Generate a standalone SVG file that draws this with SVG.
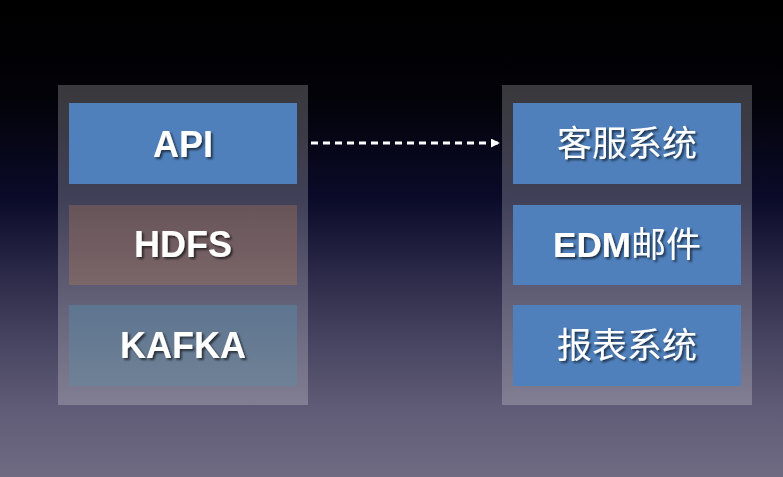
<svg xmlns="http://www.w3.org/2000/svg" width="783" height="477" viewBox="0 0 783 477">
<defs>
<linearGradient id="bg" x1="0" y1="0" x2="0" y2="1">
<stop offset="0" stop-color="#000000"/>
<stop offset="0.2" stop-color="#020208"/>
<stop offset="0.42" stop-color="#0b0b2a"/>
<stop offset="0.65" stop-color="#3b3856"/>
<stop offset="0.85" stop-color="#5f5b76"/>
<stop offset="1" stop-color="#6f6b83"/>
</linearGradient>
<linearGradient id="hdfs" x1="0" y1="0" x2="0" y2="1">
<stop offset="0" stop-color="#67545a"/>
<stop offset="1" stop-color="#7b6668"/>
</linearGradient>
<linearGradient id="kafka" x1="0" y1="0" x2="0" y2="1">
<stop offset="0" stop-color="#5e7590"/>
<stop offset="1" stop-color="#6f8196"/>
</linearGradient>
<filter id="sh" x="-20%" y="-20%" width="140%" height="140%">
<feDropShadow dx="2" dy="2" stdDeviation="1" flood-color="#000" flood-opacity="0.6"/>
</filter>
<marker id="ah" viewBox="0 0 10 10" refX="9" refY="5" markerWidth="3" markerHeight="3" orient="auto" markerUnits="strokeWidth">
<path d="M0,0 L10,5 L0,10 z" fill="#ffffff"/>
</marker>
</defs>
<style>
.cont{fill:#ffffff;fill-opacity:0.22}
.blue{fill:#4f80bb}
.lbl{fill:#ffffff;font-family:"Liberation Sans",Arial,sans-serif;font-weight:bold;font-size:36px;text-anchor:middle;filter:url(#sh)}
.cjk{fill:#ffffff;font-family:"Liberation Sans","Noto Sans CJK SC",sans-serif;font-size:35px;text-anchor:middle;filter:url(#sh)}
.edm{font-weight:bold}
</style>
<rect width="783" height="477" fill="url(#bg)"/>
<g id="left-container"><rect class="cont" x="58" y="85" width="250" height="320"/></g>
<g id="right-container"><rect class="cont" x="502" y="85" width="250" height="320"/></g>
<g id="api"><rect class="blue" x="69" y="103" width="228" height="81"/><text class="lbl" x="183" y="157">API</text></g>
<g id="hdfs"><rect fill="url(#hdfs)" x="69" y="205" width="228" height="80"/><text class="lbl" x="183" y="257">HDFS</text></g>
<g id="kafka"><rect fill="url(#kafka)" x="69" y="305" width="228" height="81"/><text class="lbl" x="183" y="358">KAFKA</text></g>
<g id="kefu"><rect class="blue" x="513" y="103" width="228" height="81"/><text class="cjk" x="627" y="156">客服系统</text></g>
<g id="edm"><rect class="blue" x="513" y="205" width="228" height="80"/><text class="cjk" x="627" y="257"><tspan class="edm">EDM</tspan>邮件</text></g>
<g id="baobiao"><rect class="blue" x="513" y="305" width="228" height="81"/><text class="cjk" x="627" y="358">报表系统</text></g>
<g id="connectors">
<line x1="311" y1="143" x2="499" y2="143" stroke="#ffffff" stroke-width="3" stroke-dasharray="7,5" marker-end="url(#ah)"/>
</g>
</svg>
